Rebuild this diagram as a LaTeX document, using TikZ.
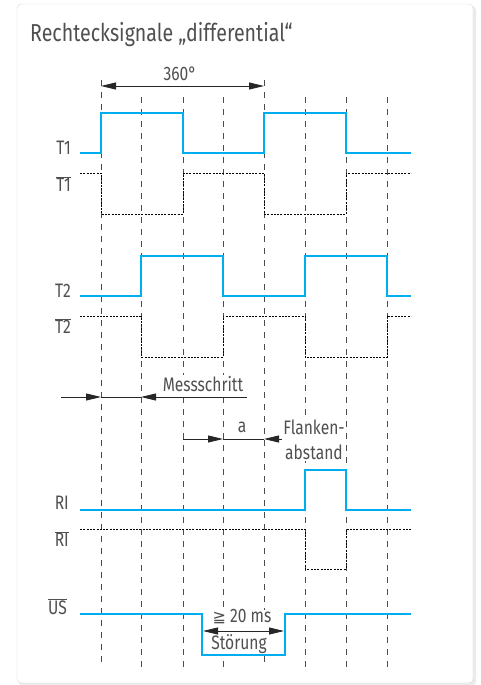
\documentclass[tikz,border=0pt]{standalone}
\usepackage{fontspec}
\setmainfont{Fira Sans}[FakeStretch=0.8]
\newfontfamily\symfont{DejaVu Sans}
\usetikzlibrary{arrows.meta}
\definecolor{signalblue}{RGB}{0,174,239}
\definecolor{labelgray}{RGB}{80,80,80}
\definecolor{cardline}{RGB}{215,215,215}

\begin{document}
\begin{tikzpicture}[x=1pt,y=1pt,
	gridline/.style={black!70,line width=0.8pt,dash pattern=on 6pt off 6pt},
	sig/.style={signalblue,line width=2.6pt},
	invsig/.style={black,line width=0.8pt,dash pattern=on 2pt off 1.3pt},
	lbl/.style={inner sep=0pt,text=labelgray,font=\fontsize{19.5}{25}\selectfont},
	dim/.style={black!85,line width=0.8pt},
	tip/.style={-{Triangle[length=15pt,width=7pt]}},
	twotip/.style={{Triangle[length=15pt,width=7pt]}-{Triangle[length=15pt,width=7pt]}}]
	\useasboundingbox (0,0) rectangle (481,-685);
	% card
	\fill [black!8,rounded corners=4pt] (19,-6) rectangle (476,-686);
	\draw [cardline,fill=white,rounded corners=4pt] (17,-4) rectangle (473,-683);
	\node (title) [anchor=base west,inner sep=0pt,text=labelgray,font=\fontsize{24.5}{28}\selectfont] at (30,-42) {Rechtecksignale „differential“};
	% grid
	\foreach \x in {101,264}
		\draw [gridline] (\x,-80) -- (\x,-667);
	\foreach \x in {141,183,223,305,346,387}
		\draw [gridline] (\x,-97) -- (\x,-667);
	% 360 degree
	\coordinate (deg0) at (101,-86);
	\coordinate (deg1) at (264,-86);
	\draw [dim,twotip] (deg0) -- (deg1);
	\node (deglbl) [lbl] at (180,-74) {360°};
	% T1
	\node (t1) [lbl,anchor=east] at (71,-148) {T1};
	\node (t1n) [lbl,anchor=east] at (71,-184) {$\overline{\mbox{T1}}$};
	\draw [sig] (80,-153) -- (101,-153) -- (101,-113) -- (183,-113) -- (183,-153) -- (264,-153) -- (264,-113) -- (346,-113) -- (346,-153) -- (411,-153);
	\draw [invsig] (80,-173) -- (101,-173) -- (101,-214) -- (183,-214) -- (183,-173) -- (264,-173) -- (264,-214) -- (346,-214) -- (346,-173) -- (411,-173);
	% T2
	\node (t2) [lbl,anchor=east] at (71,-291) {T2};
	\node (t2n) [lbl,anchor=east] at (71,-326) {$\overline{\mbox{T2}}$};
	\draw [sig] (80,-296) -- (141,-296) -- (141,-256) -- (223,-256) -- (223,-296) -- (305,-296) -- (305,-256) -- (387,-256) -- (387,-296) -- (411,-296);
	\draw [invsig] (80,-316) -- (141,-316) -- (141,-357) -- (223,-357) -- (223,-316) -- (305,-316) -- (305,-357) -- (387,-357) -- (387,-316) -- (411,-316);
	% Messschritt
	\coordinate (ms0) at (61,-397);
	\coordinate (ms1) at (101,-397);
	\coordinate (ms2) at (141,-397);
	\coordinate (ms3) at (247,-397);
	\draw [dim,tip] (ms0) -- (ms1);
	\draw [dim] (ms1) -- (ms2);
	\draw [dim,tip] (ms3) -- (ms2);
	\node (mslbl) [lbl,fill=white,inner sep=1pt] at (203,-384) {Messschritt};
	% Flankenabstand
	\coordinate (fa0) at (183,-439);
	\coordinate (fa1) at (223,-439);
	\coordinate (fa2) at (264,-439);
	\coordinate (fa3) at (346,-439);
	\draw [dim,tip] (fa0) -- (fa1);
	\draw [dim] (fa1) -- (fa2);
	\draw [dim,tip] (fa3) -- (fa2);
	\node (alsbl) [lbl] at (242,-427) {a};
	\node (falbl) [lbl,align=center,fill=white,inner sep=1pt] at (314,-440) {Flanken-\\abstand};
	% RI
	\node (ri) [lbl,anchor=east] at (69,-503) {RI};
	\node (rin) [lbl,anchor=east] at (69,-539) {$\overline{\mbox{RI}}$};
	\draw [sig] (80,-510) -- (305,-510) -- (305,-470) -- (346,-470) -- (346,-510) -- (411,-510);
	\draw [invsig] (80,-529) -- (305,-529) -- (305,-569) -- (346,-569) -- (346,-529) -- (411,-529);
	% US
	\node (usn) [lbl,anchor=east] at (67,-607) {$\overline{\mbox{US}}$};
	\draw [sig,fill=white] (80,-614) -- (202,-614) -- (202,-655) -- (285,-655) -- (285,-614) -- (411,-614);
	\coordinate (st0) at (203,-631);
	\coordinate (st1) at (284,-631);
	\node (stlbl) [lbl,fill=white] at (242,-617) {{\symfont\fontsize{16}{20}\selectfont ≧} 20 ms};
	\draw [dim,twotip] (st0) -- (st1);
	\node (stlbl2) [lbl] at (239,-644) {Störung};
\end{tikzpicture}
\end{document}
